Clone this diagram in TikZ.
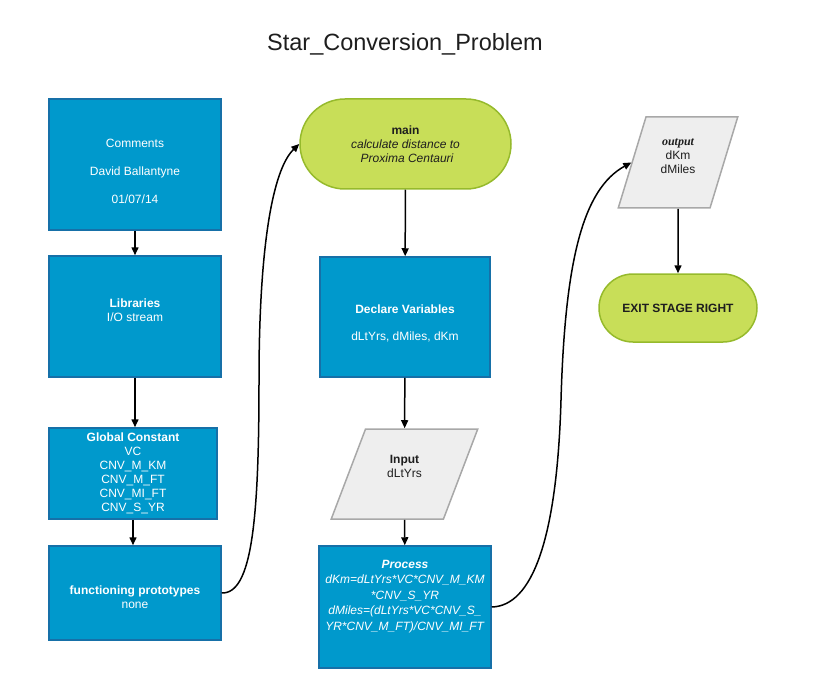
\documentclass[tikz,border=0pt]{standalone}
\usepackage{fontspec}
\setmainfont{Liberation Sans}
\newfontfamily\serifbi{Liberation Serif}
\usetikzlibrary{shapes.geometric,arrows.meta}

\definecolor{procblue}{RGB}{0,153,204}
\definecolor{procedge}{RGB}{22,112,168}
\definecolor{termgreen}{RGB}{200,222,88}
\definecolor{termedge}{RGB}{150,186,44}
\definecolor{iogray}{RGB}{238,238,238}
\definecolor{ioedge}{RGB}{168,168,168}
\definecolor{inktext}{RGB}{30,30,30}

\tikzset{
  procbox/.style={draw=procedge, line width=1.5pt, fill=procblue, text=white,
    align=center, inner sep=2pt, font=\fontsize{12}{13.9}\selectfont},
  termbox/.style={draw=termedge, line width=1.5pt, fill=termgreen, text=inktext,
    align=center, inner sep=2pt, font=\fontsize{12}{13.9}\selectfont},
  iobox/.style={trapezium, trapezium stretches=true, draw=ioedge, line width=1.5pt,
    fill=iogray, text=inktext, align=center, inner sep=2pt,
    font=\fontsize{12}{13.9}\selectfont},
  flow/.style={-{Triangle[length=8pt,width=7pt]}, line width=1.5pt}
}

\begin{document}
\begin{tikzpicture}[x=1pt,y=-1pt]
\useasboundingbox (0,0) rectangle (827,687);

% Title
\node[text=inktext, font=\fontsize{23.5}{26}\selectfont] (title) at (405,44) {Star\_Conversion\_Problem};

% Left column
\node[procbox, minimum width=172pt, minimum height=131pt] (comments) at (135,164.5)
  {\rule{0pt}{21.7pt}Comments\\[14.1pt]David Ballantyne\\[14.1pt]01/07/14};
\node[procbox, minimum width=172pt, minimum height=121pt] (libs) at (135,316.5)
  {\textbf{Libraries}\\I/O stream\\[-0.9pt]\mbox{}};
\node[procbox, minimum width=168pt, minimum height=91pt] (glob) at (133,473.5)
  {\textbf{Global Constant}\\VC\\CNV\_M\_KM\\CNV\_M\_FT\\CNV\_MI\_FT\\CNV\_S\_YR};
\node[procbox, minimum width=172pt, minimum height=94pt] (func) at (135,593)
  {\rule{0pt}{17.8pt}\textbf{functioning prototypes}\\none};

% Middle column
\node[termbox, minimum width=211pt, minimum height=90pt, rounded corners=45pt] (main) at (405.5,144)
  {\textbf{main}\\\textit{calculate distance to}\\\textit{\ Proxima Centauri}};
\node[procbox, minimum width=170pt, minimum height=120pt] (declare) at (405,317)
  {\rule{0pt}{21.7pt}\textbf{Declare Variables}\\[13.1pt]dLtYrs, dMiles, dKm};
\node[iobox, trapezium left angle=68, trapezium right angle=112,
  minimum width=147pt, minimum height=90pt] (input) at (404.5,474)
  {\textbf{Input}\\dLtYrs\\[2.1pt]\mbox{}};
\node[procbox, minimum width=172pt, minimum height=122pt,
  font=\fontsize{12}{15.5}\selectfont] (process) at (405,607)
  {\textbf{\textit{Process}}\\\textit{dKm=dLtYrs*VC*CNV\_M\_KM}\\\textit{*CNV\_S\_YR}\\
   \textit{dMiles=(dLtYrs*VC*CNV\_S\_}\\\textit{YR*CNV\_M\_FT)/CNV\_MI\_FT}\\[8.5pt]\mbox{}};

% Right column
\node[iobox, trapezium left angle=72, trapezium right angle=108,
  minimum width=120pt, minimum height=91pt] (output) at (678,162.5)
  {{\serifbi\bfseries\itshape output}\\dKm\\dMiles\\[-0.9pt]\mbox{}};
\node[termbox, minimum width=158pt, minimum height=68pt, rounded corners=34pt] (exit) at (678,308)
  {\textbf{EXIT STAGE RIGHT}};

% Straight connectors
\draw[flow] (comments) -- (libs);
\draw[flow] (libs.south) -- (libs.south |- glob.north);
\draw[flow] (glob.south) -- (glob.south |- func.north);
\draw[flow] (main) -- (declare);
\draw[flow] (declare) -- (input);
\draw[flow] (input) -- (process);
\draw[flow] (output) -- (exit);

% Curved connectors between columns
\coordinate (bendA) at (259,380);
\coordinate (bendB) at (561,400);
\draw[flow] (func.east) .. controls (252,594) and (259,520) .. (bendA)
  .. controls (259,250) and (272,170) .. (main.west);
\draw[flow] (process.east) .. controls (532,606) and (557,540) .. (bendB)
  .. controls (565,260) and (583,189) .. (output.west);
\end{tikzpicture}
\end{document}
